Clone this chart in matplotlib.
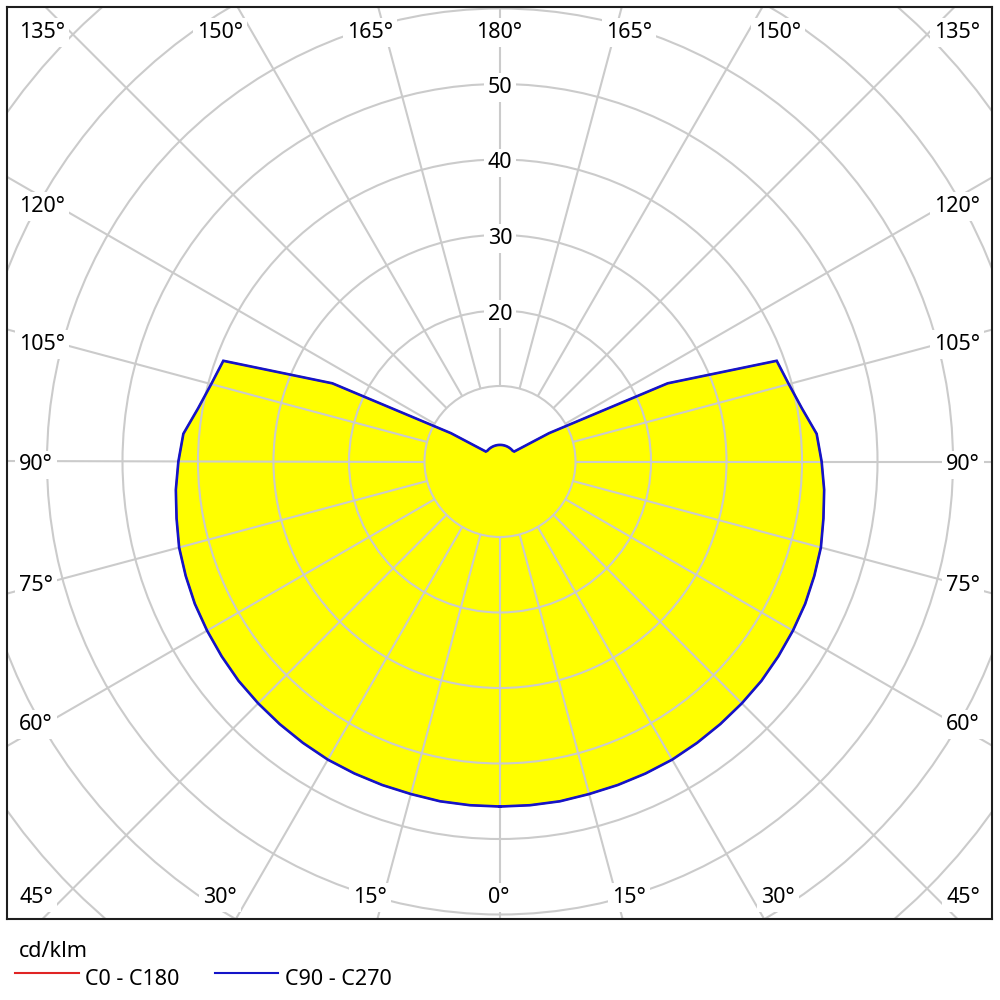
import numpy as np
import matplotlib
matplotlib.use('Agg')
import matplotlib.pyplot as plt
from matplotlib.patches import Circle
from matplotlib.lines import Line2D

# ============================================================
# Data: luminous intensity distribution (cd/klm)
# ============================================================
gamma = list(range(0, 181, 5))  # deg, 0 = straight down
c90_c270 = [45.7, 45.7, 45.7, 45.6, 45.6, 45.6, 45.6, 45.5, 45.4, 45.3,
            45.2, 45.0, 44.8, 44.6, 44.3, 44.0, 43.5, 43.1, 42.6, 42.1,
            40.6, 39.6, 39.0, 24.5, 7.5, 2.3, 2.2, 2.2, 2.2, 2.2,
            2.2, 2.2, 2.2, 2.2, 2.2, 2.2, 2.2]
# C0-C180 lies exactly under the C90-C270 curve (not visible)
c0_c180 = list(c90_c270)

rings = [10, 20, 30, 40, 50, 60, 70, 80]
ring_labels = [20, 30, 40, 50]
spoke_step = 15

unit = 'cd/klm'
series_names = ['C0 - C180', 'C90 - C270']

# ============================================================
# Style
# ============================================================
YELLOW = '#ffff00'
BLUE = '#1414c8'
RED = '#e02424'
GRID = '#cbcbcb'
FONT = 'Noto Sans'
FS = 15.5

PX = 7.55            # pixels per cd/klm
CX, CY = 500, 461.5  # pole position in pixels


def px2data(px, py):
    return (px - CX) / PX, (CY - py) / PX


fig = plt.figure(figsize=(10, 10), dpi=100)
fig.patch.set_facecolor('white')

left, right, top, bottom = 6.5, 992.5, 7, 919
ax = fig.add_axes([left / 1000, 1 - bottom / 1000,
                   (right - left) / 1000, (bottom - top) / 1000])
x0, y1 = px2data(left, top)
x1, y0 = px2data(right, bottom)
ax.set_xlim(x0, x1)
ax.set_ylim(y0, y1)
ax.set_xticks([])
ax.set_yticks([])
for s in ax.spines.values():
    s.set_linewidth(1.5)
    s.set_color('#1e1e1e')
    s.set_zorder(10)

# ============================================================
# Curve (C90 right, C270 left; symmetric)
# ============================================================
g = np.radians(gamma)


def to_xy(values):
    r = np.array(values)
    xr = r * np.sin(g)
    yr = -r * np.cos(g)
    x = np.concatenate([xr, -xr[::-1]])
    y = np.concatenate([yr, yr[::-1]])
    return x, y


xb, yb = to_xy(c90_c270)
xa, ya = to_xy(c0_c180)
ax.fill(xb, yb, color=YELLOW, lw=0, zorder=1)

# ============================================================
# Polar grid
# ============================================================
for rv in rings:
    ax.add_patch(Circle((0, 0), rv, fill=False, ec=GRID, lw=1.5, zorder=2))
for a in range(0, 360, spoke_step):
    t = np.radians(a)
    ax.plot([10 * np.sin(t), 120 * np.sin(t)], [-10 * np.cos(t), -120 * np.cos(t)],
            color=GRID, lw=1.5, zorder=2, solid_capstyle='butt')

ax.plot(xa, ya, color=RED, lw=1.2, zorder=3)
ax.plot(xb, yb, color=BLUE, lw=1.9, zorder=4, solid_joinstyle='miter')

box = dict(boxstyle='square,pad=0.18', fc='white', ec='none')

# ring labels on the 180 deg spoke
for v in ring_labels:
    ax.annotate(str(v), xy=(0, v), xytext=(0, -9), textcoords='offset pixels',
                ha='center', va='baseline', fontsize=FS, family=FONT,
                bbox=box, zorder=6)

# angle labels (pixel centres read from the layout)
top_y, bot_y = 30, 895
side_l, side_r = 19, 980
side_ys = [203.7, 342, 462.5, 583.3, 721.7]
side_txt = ['120°', '105°', '90°', '75°', '60°']
top_row = [('135°', side_l, 'left'), ('150°', 220, 'center'), ('165°', 370, 'center'),
           ('180°', 499, 'center'), ('165°', 629, 'center'), ('150°', 778, 'center'),
           ('135°', side_r, 'right')]
bot_row = [('45°', side_l, 'left'), ('30°', 220, 'center'), ('15°', 370, 'center'),
           ('0°', 499, 'center'), ('15°', 629, 'center'), ('30°', 778, 'center'),
           ('45°', side_r, 'right')]

labels = []
for t, x, ha in top_row:
    labels.append((t, x, top_y, ha))
for t, x, ha in bot_row:
    labels.append((t, x, bot_y, ha))
for t, y in zip(side_txt, side_ys):
    labels.append((t, side_l, y, 'left'))
    labels.append((t, side_r, y, 'right'))

for t, x, y, ha in labels:
    dx, dy = px2data(x, y + 8)
    ax.text(dx, dy, t, ha=ha, va='baseline', fontsize=FS, family=FONT,
            bbox=box, zorder=6)

# ============================================================
# Legend below the frame
# ============================================================
fig.text(19 / 1000, 1 - 957 / 1000, unit, ha='left', va='baseline',
         fontsize=FS, family=FONT)
leg_y = 1 - 973.3 / 1000
for (xs, xe, xt), col, name in zip([(15, 79, 85), (215, 278, 285)], [RED, BLUE], series_names):
    fig.add_artist(Line2D([xs / 1000, xe / 1000], [leg_y, leg_y],
                          transform=fig.transFigure, color=col, lw=1.5))
    fig.text(xt / 1000, 1 - 985 / 1000, name, ha='left', va='baseline',
             fontsize=FS, family=FONT)

fig.savefig('out.png', dpi=100)
